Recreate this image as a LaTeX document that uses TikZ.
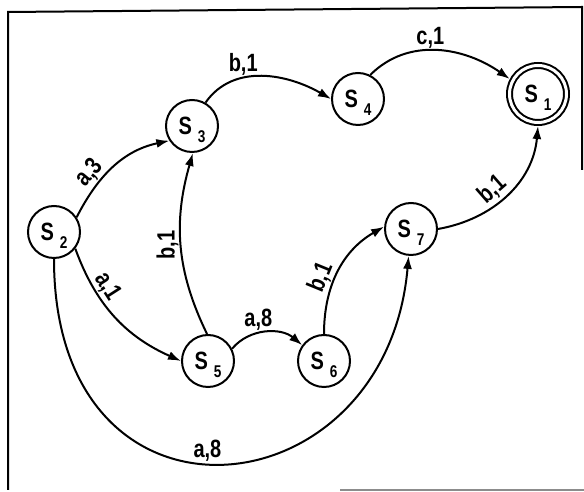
\documentclass[tikz,border=0pt]{standalone}
\usepackage{fontspec}
\setmainfont{Liberation Sans}[FakeStretch=0.8]
\usetikzlibrary{arrows.meta}

\newcommand{\stname}[1]{S\kern6pt\smash{\raisebox{-8pt}{\fontsize{17}{17}\selectfont #1}}}

\tikzset{
    state/.style={circle, draw, line width=2pt, minimum size=52pt, inner sep=0pt,
        font=\fontsize{25}{25}\selectfont\bfseries},
    final/.style={state, double, double distance=3pt, minimum size=57pt, outer sep=3.5pt},
    edge/.style={line width=2pt, -{Latex[length=13pt,width=9pt]}},
    lbl/.style={font=\fontsize{25}{25}\selectfont\bfseries, inner sep=1.5pt}
}

\begin{document}
\begin{tikzpicture}[x=1pt,y=1pt]
\useasboundingbox (0,0) rectangle (584,492);

% ===== Khung =====
\draw[line width=2pt] (582,322) -- (582,485) -- (8,480) -- (8,2);
\draw[line width=2pt, black!45] (340,2) -- (584,2);

% ===== Cac trang thai =====
\foreach \n/\x/\y in {2/54/260, 3/192/366, 4/358/393, 5/208/131, 6/324/131, 7/411/263} {
    \node[state] (s\n) at (\x,\y) {\stname{\n}};
}
\node[final] (s1) at (538,398) {\stname{1}};

% ===== Cac canh =====
\draw[edge] (s2.33) to[out=63,in=192] node[lbl,above,sloped,pos=.33] (l23) {a,3} (s3.213);
\draw[edge] (s2.-38) to[out=-70,in=156] node[lbl,above,sloped,pos=.3] (l25) {a,1} (s5.180);
\draw[edge] (s5.92) to[out=116,in=-106] node[lbl,rotate=90,anchor=south,pos=.5] (l53) {b,1} (s3.-88);
\draw[edge] (s3.60) to[out=55,in=150] node[lbl,above,pos=.35] (l34) {b,1} (s4.180);
\draw[edge] (s4.63) to[out=45,in=145] node[lbl,above,pos=.45] (l41) {c,1} (s1.152);
\draw[edge] (s7.0) to[out=10,in=-95] node[lbl,above,sloped,pos=.45] (l71) {b,1} (s1.-90);
\draw[edge] (s5.27) to[out=50,in=140] node[lbl,above,pos=.4] (l56) {a,8} (s6.144);
\draw[edge] (s6.90) to[out=90,in=210] node[lbl,above,sloped,pos=.4] (l67) {b,1} (s7.175);

% cung duoi S2 -> S7
\draw[edge] (s2.-90) to[out=-90,in=-95,out distance=290pt,in distance=260pt]
    node[lbl,above,pos=.47] (l27) {a,8} (s7.-95);

\end{tikzpicture}
\end{document}
